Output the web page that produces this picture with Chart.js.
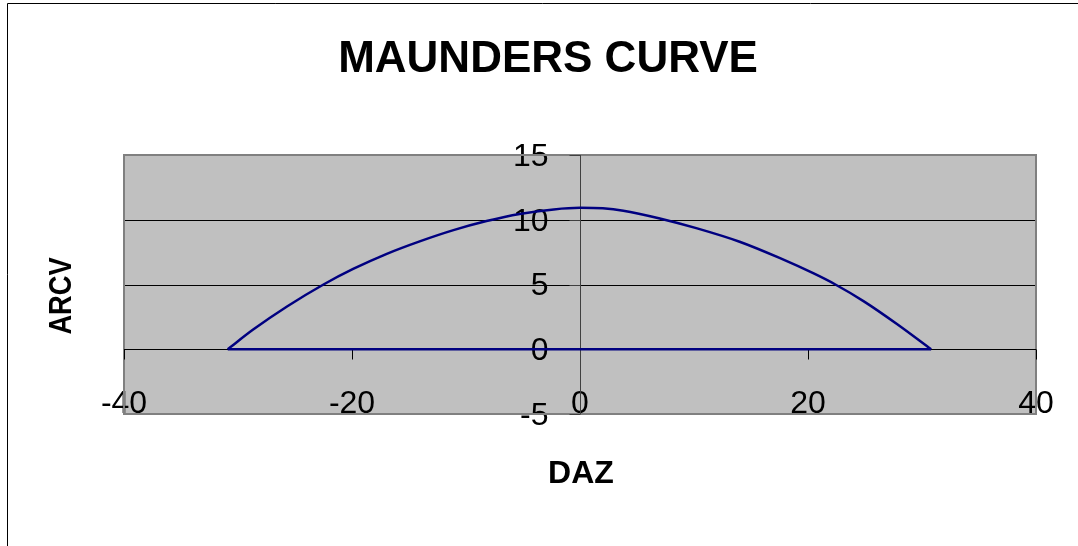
<!DOCTYPE html>
<html>
<head>
<meta charset="utf-8">
<title>Maunders Curve</title>
<script src="https://cdn.jsdelivr.net/npm/chart.js@4"></script>
<style>
  body { margin: 0; background: #fff; }
  #wrap { width: 1078px; height: 546px; }
</style>
</head>
<body>
<div id="wrap"><canvas id="maunders" width="1078" height="546"></canvas></div>
<script>
// Curve (DAZ vs ARCV)
const daz = [-30.9, -28.7, -25.7, -22.5, -19.9, -17.0, -14.0, -11.1, -8.2, -5.3, -2.3, 0, 2.0, 3.8, 7.0, 10.2, 14.0, 17.5, 20.5, 22.4, 24.9, 27.8, 30.8];
const arcv = [0, 1.5, 3.3, 5.0, 6.2, 7.35, 8.35, 9.2, 9.9, 10.45, 10.8, 10.92, 10.88, 10.7, 10.1, 9.35, 8.3, 7.05, 5.85, 5.0, 3.7, 1.95, 0];

// closing segment back along the base
const baseDaz = [30.8, -30.9];
const baseArcv = [0, 0];

// axis ticks
const xTicks = [-40, -20, 0, 20, 40];
const yTicks = [-5, 0, 5, 10, 15];
const yGrid = [5, 10];

const FONT = '"Liberation Sans", Arial, sans-serif';

function toPoints(xs, ys) {
  return xs.map((x, i) => ({ x: x, y: ys[i] }));
}

// Excel style frame: grey plot area, axes crossing at zero, labels
const excelFrame = {
  id: 'excelFrame',
  beforeDraw(chart) {
    const ctx = chart.ctx;
    ctx.save();
    // outer chart border (top + left only visible)
    ctx.strokeStyle = '#000';
    ctx.lineWidth = 1;
    ctx.beginPath();
    ctx.moveTo(7.5, 546);
    ctx.lineTo(7.5, 3.5);
    ctx.lineTo(1078, 3.5);
    ctx.stroke();

    ctx.fillStyle = '#000';
    ctx.textAlign = 'center';
    ctx.textBaseline = 'alphabetic';
    ctx.font = 'bold 44px ' + FONT;
    ctx.fillText('MAUNDERS CURVE', 548, 72);

    ctx.font = 'bold 32px ' + FONT;
    ctx.fillText('DAZ', 581, 483);

    ctx.translate(71, 296);
    ctx.rotate(-Math.PI / 2);
    ctx.scale(0.85, 1);
    ctx.fillText('ARCV', 0, 0);
    ctx.restore();
  },
  beforeDatasetsDraw(chart) {
    const ctx = chart.ctx;
    const a = chart.chartArea;
    const xs = chart.scales.x;
    const ys = chart.scales.y;
    const x0 = Math.round(xs.getPixelForValue(0)) + 0.5;
    const y0 = Math.round(ys.getPixelForValue(0)) + 0.5;
    ctx.save();

    ctx.fillStyle = '#c0c0c0';
    ctx.fillRect(a.left, a.top, a.right - a.left, a.bottom - a.top);

    // tick labels
    ctx.fillStyle = '#000';
    ctx.font = '32px ' + FONT;
    ctx.textAlign = 'right';
    ctx.textBaseline = 'middle';
    yTicks.forEach(v => {
      ctx.fillText(String(v), x0 - 32, ys.getPixelForValue(v) + 2);
    });
    ctx.textAlign = 'center';
    ctx.textBaseline = 'alphabetic';
    xTicks.forEach(v => {
      ctx.fillText(String(v), xs.getPixelForValue(v), a.bottom - 1);
    });

    // gridlines
    ctx.strokeStyle = '#000';
    ctx.lineWidth = 1;
    yGrid.forEach(v => {
      const y = Math.round(ys.getPixelForValue(v)) + 0.5;
      ctx.beginPath();
      ctx.moveTo(a.left, y);
      ctx.lineTo(a.right, y);
      ctx.stroke();
    });

    // plot border
    ctx.strokeStyle = '#808080';
    ctx.lineWidth = 2;
    ctx.strokeRect(a.left, a.top, a.right - a.left, a.bottom - a.top);

    // x axis at y = 0 with ticks pointing down
    ctx.strokeStyle = '#000';
    ctx.lineWidth = 1;
    ctx.beginPath();
    ctx.moveTo(a.left, y0);
    ctx.lineTo(a.right, y0);
    xTicks.forEach(v => {
      const x = Math.round(xs.getPixelForValue(v)) + 0.5;
      ctx.moveTo(x, y0);
      ctx.lineTo(x, y0 + 10);
    });
    ctx.stroke();

    // y axis at x = 0 with ticks pointing left
    ctx.strokeStyle = '#404040';
    ctx.beginPath();
    ctx.moveTo(x0, a.top);
    ctx.lineTo(x0, a.bottom);
    yTicks.forEach(v => {
      const y = Math.round(ys.getPixelForValue(v)) + 0.5;
      ctx.moveTo(x0, y);
      ctx.lineTo(x0 - 11, y);
    });
    ctx.stroke();
    ctx.restore();
  }
};

const ctx = document.getElementById('maunders').getContext('2d');
new Chart(ctx, {
  type: 'scatter',
  data: {
    datasets: [
      {
        label: 'ARCV',
        data: toPoints(daz, arcv),
        showLine: true,
        borderColor: '#000080',
        borderWidth: 2.5,
        pointRadius: 0,
        cubicInterpolationMode: 'monotone'
      },
      {
        label: 'base',
        data: toPoints(baseDaz, baseArcv),
        showLine: true,
        borderColor: '#000080',
        borderWidth: 2.5,
        pointRadius: 0
      }
    ]
  },
  options: {
    responsive: false,
    animation: false,
    layout: { padding: { left: 124, right: 42, top: 155, bottom: 132 } },
    scales: {
      x: { type: 'linear', min: -40, max: 40, display: false },
      y: { type: 'linear', min: -5, max: 15, display: false }
    },
    plugins: {
      legend: { display: false },
      tooltip: { enabled: false },
      title: { display: false }
    }
  },
  plugins: [excelFrame]
});
</script>
</body>
</html>
